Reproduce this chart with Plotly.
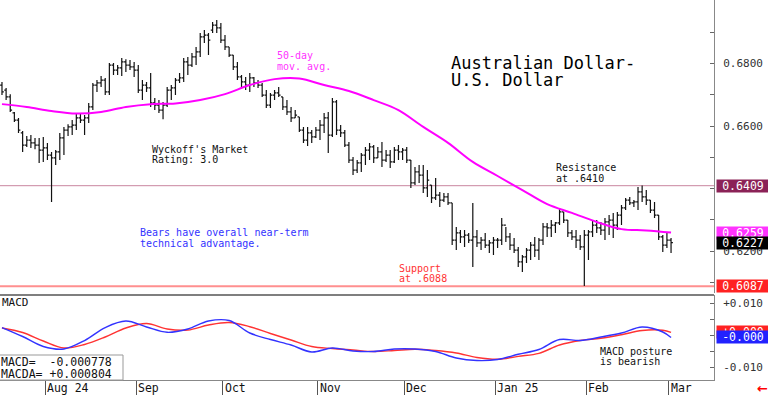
import pandas as pd
import plotly.graph_objects as go

MONO = "DejaVu Sans Mono"

# ---------------- data ----------------
dates = [d for d in pd.bdate_range("2024-07-17", "2025-03-03") if d != pd.Timestamp("2025-01-01")]

high = [
    0.6741, 0.6722, 0.6702, 0.6645, 0.6626, 0.6584, 0.6568, 0.6571, 0.6562, 0.6562,
    0.6565, 0.6546, 0.6517, 0.6523, 0.6578, 0.6597, 0.6606, 0.6619, 0.6642, 0.6642,
    0.6635, 0.6674, 0.6738, 0.6747, 0.6760, 0.6754, 0.6802, 0.6802, 0.6795, 0.6818,
    0.6814, 0.6811, 0.6805, 0.6795, 0.6747, 0.6741, 0.6770, 0.6690, 0.6683, 0.6677,
    0.6725, 0.6731, 0.6754, 0.6770, 0.6818, 0.6821, 0.6834, 0.6853, 0.6898, 0.6907,
    0.6898, 0.6933, 0.6939, 0.6930, 0.6891, 0.6853, 0.6827, 0.6805, 0.6763, 0.6757,
    0.6770, 0.6757, 0.6747, 0.6738, 0.6715, 0.6706, 0.6715, 0.6725, 0.6693, 0.6683,
    0.6661, 0.6651, 0.6629, 0.6597, 0.6597, 0.6587, 0.6597, 0.6619, 0.6642, 0.6645,
    0.6690, 0.6683, 0.6603, 0.6587, 0.6549, 0.6501, 0.6491, 0.6514, 0.6533, 0.6546,
    0.6539, 0.6533, 0.6549, 0.6523, 0.6523, 0.6533, 0.6539, 0.6530, 0.6533, 0.6491,
    0.6469, 0.6475, 0.6475, 0.6459, 0.6411, 0.6434, 0.6389, 0.6386, 0.6386, 0.6354,
    0.6277, 0.6267, 0.6267, 0.6258, 0.6354, 0.6267, 0.6245, 0.6258, 0.6235, 0.6245,
    0.6242, 0.6306, 0.6277, 0.6258, 0.6242, 0.6213, 0.6187, 0.6210, 0.6229, 0.6245,
    0.6242, 0.6290, 0.6290, 0.6299, 0.6293, 0.6338, 0.6325, 0.6299, 0.6267, 0.6267,
    0.6251, 0.6267, 0.6267, 0.6299, 0.6299, 0.6293, 0.6306, 0.6315, 0.6322, 0.6325,
    0.6347, 0.6370, 0.6373, 0.6363, 0.6405, 0.6410, 0.6395, 0.6363, 0.6357, 0.6315,
    0.6251, 0.6258, 0.6242,
]
low = [
    0.6699, 0.6683, 0.6645, 0.6613, 0.6578, 0.6517, 0.6533, 0.6530, 0.6526, 0.6482,
    0.6485, 0.6491, 0.6357, 0.6475, 0.6491, 0.6507, 0.6568, 0.6571, 0.6587, 0.6610,
    0.6571, 0.6610, 0.6651, 0.6709, 0.6725, 0.6699, 0.6699, 0.6763, 0.6763, 0.6760,
    0.6773, 0.6779, 0.6757, 0.6706, 0.6683, 0.6709, 0.6661, 0.6651, 0.6642, 0.6622,
    0.6661, 0.6683, 0.6699, 0.6738, 0.6741, 0.6763, 0.6789, 0.6795, 0.6821, 0.6866,
    0.6827, 0.6898, 0.6898, 0.6866, 0.6843, 0.6821, 0.6779, 0.6747, 0.6722, 0.6715,
    0.6709, 0.6725, 0.6722, 0.6693, 0.6658, 0.6658, 0.6683, 0.6693, 0.6651, 0.6635,
    0.6613, 0.6626, 0.6581, 0.6546, 0.6536, 0.6546, 0.6562, 0.6555, 0.6578, 0.6514,
    0.6565, 0.6571, 0.6565, 0.6533, 0.6482, 0.6443, 0.6450, 0.6453, 0.6475, 0.6491,
    0.6482, 0.6498, 0.6469, 0.6485, 0.6466, 0.6482, 0.6491, 0.6491, 0.6482, 0.6402,
    0.6411, 0.6418, 0.6386, 0.6373, 0.6354, 0.6363, 0.6341, 0.6357, 0.6347, 0.6219,
    0.6203, 0.6226, 0.6213, 0.6226, 0.6149, 0.6213, 0.6203, 0.6210, 0.6194, 0.6187,
    0.6210, 0.6219, 0.6229, 0.6203, 0.6194, 0.6149, 0.6133, 0.6162, 0.6171, 0.6181,
    0.6171, 0.6219, 0.6245, 0.6245, 0.6258, 0.6283, 0.6290, 0.6245, 0.6235, 0.6210,
    0.6203, 0.6088, 0.6171, 0.6245, 0.6258, 0.6251, 0.6235, 0.6251, 0.6242, 0.6267,
    0.6283, 0.6331, 0.6347, 0.6341, 0.6331, 0.6357, 0.6347, 0.6322, 0.6306, 0.6235,
    0.6197, 0.6210, 0.6194,
]
open_ = [
    0.6731, 0.6715, 0.6693, 0.6642, 0.6619, 0.6578, 0.6539, 0.6555, 0.6546, 0.6539,
    0.6523, 0.6530, 0.6507, 0.6498, 0.6517, 0.6562, 0.6587, 0.6597, 0.6603, 0.6626,
    0.6619, 0.6626, 0.6661, 0.6731, 0.6738, 0.6747, 0.6709, 0.6795, 0.6779, 0.6786,
    0.6805, 0.6795, 0.6789, 0.6779, 0.6715, 0.6731, 0.6722, 0.6674, 0.6667, 0.6651,
    0.6667, 0.6715, 0.6722, 0.6747, 0.6754, 0.6805, 0.6795, 0.6821, 0.6837, 0.6885,
    0.6891, 0.6907, 0.6923, 0.6914, 0.6875, 0.6853, 0.6827, 0.6789, 0.6757, 0.6741,
    0.6731, 0.6754, 0.6738, 0.6731, 0.6699, 0.6667, 0.6699, 0.6706, 0.6693, 0.6661,
    0.6645, 0.6626, 0.6629, 0.6587, 0.6555, 0.6578, 0.6565, 0.6587, 0.6603, 0.6626,
    0.6571, 0.6677, 0.6587, 0.6578, 0.6539, 0.6491, 0.6459, 0.6482, 0.6507, 0.6523,
    0.6533, 0.6498, 0.6517, 0.6491, 0.6507, 0.6485, 0.6523, 0.6517, 0.6523, 0.6491,
    0.6418, 0.6453, 0.6443, 0.6402, 0.6411, 0.6370, 0.6379, 0.6363, 0.6373, 0.6354,
    0.6235, 0.6258, 0.6245, 0.6251, 0.6235, 0.6245, 0.6226, 0.6235, 0.6219, 0.6226,
    0.6235, 0.6235, 0.6283, 0.6245, 0.6219, 0.6203, 0.6165, 0.6181, 0.6203, 0.6219,
    0.6203, 0.6235, 0.6277, 0.6274, 0.6283, 0.6290, 0.6325, 0.6299, 0.6258, 0.6245,
    0.6235, 0.6213, 0.6251, 0.6261, 0.6283, 0.6274, 0.6267, 0.6293, 0.6299, 0.6283,
    0.6315, 0.6338, 0.6363, 0.6354, 0.6357, 0.6389, 0.6373, 0.6363, 0.6331, 0.6315,
    0.6245, 0.6219, 0.6235,
]
close = [
    0.6709, 0.6693, 0.6651, 0.6619, 0.6587, 0.6539, 0.6555, 0.6546, 0.6539, 0.6523,
    0.6530, 0.6507, 0.6498, 0.6517, 0.6562, 0.6587, 0.6597, 0.6603, 0.6626, 0.6619,
    0.6626, 0.6661, 0.6731, 0.6738, 0.6747, 0.6709, 0.6795, 0.6779, 0.6786, 0.6805,
    0.6795, 0.6789, 0.6779, 0.6715, 0.6731, 0.6722, 0.6674, 0.6667, 0.6651, 0.6667,
    0.6715, 0.6722, 0.6747, 0.6754, 0.6805, 0.6795, 0.6821, 0.6837, 0.6885, 0.6891,
    0.6875, 0.6923, 0.6914, 0.6875, 0.6853, 0.6827, 0.6789, 0.6757, 0.6741, 0.6731,
    0.6754, 0.6738, 0.6731, 0.6699, 0.6667, 0.6699, 0.6706, 0.6699, 0.6661, 0.6645,
    0.6626, 0.6635, 0.6587, 0.6555, 0.6578, 0.6565, 0.6587, 0.6603, 0.6626, 0.6571,
    0.6677, 0.6587, 0.6578, 0.6539, 0.6491, 0.6459, 0.6482, 0.6507, 0.6523, 0.6533,
    0.6498, 0.6517, 0.6491, 0.6507, 0.6485, 0.6523, 0.6517, 0.6523, 0.6491, 0.6418,
    0.6453, 0.6443, 0.6402, 0.6427, 0.6370, 0.6379, 0.6363, 0.6373, 0.6354, 0.6235,
    0.6258, 0.6245, 0.6251, 0.6235, 0.6245, 0.6226, 0.6235, 0.6219, 0.6226, 0.6235,
    0.6235, 0.6283, 0.6245, 0.6219, 0.6203, 0.6165, 0.6181, 0.6203, 0.6219, 0.6203,
    0.6235, 0.6277, 0.6274, 0.6283, 0.6290, 0.6325, 0.6299, 0.6258, 0.6245, 0.6235,
    0.6213, 0.6251, 0.6261, 0.6283, 0.6274, 0.6267, 0.6293, 0.6299, 0.6283, 0.6315,
    0.6338, 0.6363, 0.6354, 0.6357, 0.6389, 0.6373, 0.6363, 0.6331, 0.6315, 0.6245,
    0.6219, 0.6235, 0.6227,
]

# 50-day moving average, read every 6th session
ma_idx = list(range(0, 163, 6))
ma_val = [0.6670, 0.6661, 0.6648, 0.6640, 0.6645, 0.6661, 0.6670, 0.6672, 0.6683, 0.6702,
          0.6731, 0.6750, 0.6752, 0.6731, 0.6712, 0.6683, 0.6651, 0.6597, 0.6546, 0.6485,
          0.6440, 0.6395, 0.6350, 0.6322, 0.6293, 0.6270, 0.6266, 0.6259]

# MACD and its average, read every 5th session
macd_idx = list(range(0, 161, 5)) + [162]
macd = [0.00234, -0.00047, -0.00359, -0.00438, -0.00172, 0.00234, 0.00438, 0.00250, 0.00084, 0.00188,
        0.00438, 0.00453, 0.00063, -0.00141, -0.00313, -0.00531, -0.00406, -0.00500, -0.00516, -0.00438,
        -0.00438, -0.00516, -0.00719, -0.00797, -0.00766, -0.00603, -0.00453, -0.00141, -0.00172, -0.00063,
        0.00063, 0.00250, 0.00094, -0.000778]
macda = [0.00219, 0.00078, -0.00188, -0.00406, -0.00297, -0.00063, 0.00219, 0.00359, 0.00188, 0.00156,
         0.00313, 0.00391, 0.00259, 0.00047, -0.00156, -0.00359, -0.00422, -0.00469, -0.00516, -0.00484,
         -0.00444, -0.00484, -0.00563, -0.00703, -0.00759, -0.00666, -0.00572, -0.00313, -0.00172, -0.00103,
         0.00009, 0.00141, 0.00147, 0.000804]

resistance = 0.6409
support = 0.6087
ma_last = 0.6259
last_close = 0.6227

month_starts = ["2024-08-01", "2024-09-01", "2024-10-01", "2024-11-01",
                "2024-12-01", "2025-01-01", "2025-02-01", "2025-03-01"]
month_labels = ["Aug 24", "Sep", "Oct", "Nov", "Dec", "Jan 25", "Feb", "Mar"]

price_ticks = [0.62, 0.64, 0.66, 0.68]
price_minor = [0.61, 0.63, 0.65, 0.67, 0.69, 0.70]
macd_ticks = [-0.01, 0.01]
macd_ticktext = ["-0.010", "+0.010"]

# ---------------- geometry helpers ----------------
PW, PH = 714.0, 380.0   # plot area in px


def px(xp):
    return xp / PW


def py(yp):
    return 1 - yp / PH


idx = list(range(len(dates)))
tick_pos = [sum(1 for d in dates if d < pd.Timestamp(m)) - 0.5 for m in month_starts]
xr = [-0.48, 172.4]

fig = go.Figure()
fig.add_trace(go.Ohlc(
    x=idx, open=open_, high=high, low=low, close=close,
    increasing=dict(line=dict(color="#111111", width=1.2)),
    decreasing=dict(line=dict(color="#111111", width=1.2)),
    tickwidth=0.45, xaxis="x", yaxis="y", hoverinfo="skip", showlegend=False))
fig.add_trace(go.Scatter(
    x=ma_idx, y=ma_val, mode="lines", line=dict(color="#ff00ff", width=2, shape="spline"),
    xaxis="x", yaxis="y", hoverinfo="skip", showlegend=False))
fig.add_trace(go.Scatter(
    x=macd_idx, y=macda, mode="lines", line=dict(color="#ff3333", width=1.4, shape="spline"),
    xaxis="x2", yaxis="y2", hoverinfo="skip", showlegend=False))
fig.add_trace(go.Scatter(
    x=macd_idx, y=macd, mode="lines", line=dict(color="#3333ff", width=1.4, shape="spline"),
    xaxis="x2", yaxis="y2", hoverinfo="skip", showlegend=False))

tickfont = dict(family=MONO, size=11, color="#333333")

fig.update_layout(
    width=768, height=395,
    margin=dict(l=0, r=54, t=0, b=15),
    paper_bgcolor="white", plot_bgcolor="white",
    showlegend=False,
    xaxis=dict(domain=[0, 1], range=xr, anchor="y", showticklabels=False, showgrid=False,
               zeroline=False, showline=False, ticks="", rangeslider=dict(visible=False)),
    yaxis=dict(domain=[1 - 293 / PH, 1], range=[0.60656, 0.70032], side="right",
               tickvals=price_ticks, tickformat=".4f", ticks="inside", ticklen=4,
               tickcolor="#666666", showline=True, linecolor="#888888", linewidth=1,
               showgrid=False, zeroline=False, tickfont=tickfont, ticklabelstandoff=6,
               minor=dict(tickvals=price_minor, ticks="inside", ticklen=4, tickcolor="#666666")),
    xaxis2=dict(domain=[0, 1], range=xr, anchor="y2", tickvals=tick_pos, ticks="outside",
                ticklen=15, tickcolor="#555555", showticklabels=False, showline=True,
                linecolor="#888888", showgrid=False, zeroline=False),
    yaxis2=dict(domain=[0, 1 - 295 / PH], range=[-0.01406, 0.0125], side="right",
                tickvals=macd_ticks, ticktext=macd_ticktext, ticks="inside", ticklen=4,
                tickcolor="#666666", showline=True, linecolor="#888888", showgrid=False,
                zeroline=False, tickfont=tickfont, ticklabelstandoff=6,
                minor=dict(tickvals=[-0.005, 0.0, 0.005], ticks="inside", ticklen=4,
                           tickcolor="#666666")),
)

shapes = [
    dict(type="line", xref="paper", yref="y", x0=0, x1=1, y0=resistance, y1=resistance,
         line=dict(color="#c9869f", width=1), layer="below"),
    dict(type="line", xref="paper", yref="y", x0=0, x1=1, y0=support, y1=support,
         line=dict(color="#ff8f8f", width=2), layer="below"),
    dict(type="line", xref="paper", yref="paper", x0=0, x1=1, y0=py(295), y1=py(295),
         line=dict(color="#555555", width=1.5)),
    dict(type="rect", xref="paper", yref="paper", x0=px(-1), x1=px(123), y0=py(380), y1=py(355),
         fillcolor="white", line=dict(color="#999999", width=1), layer="above"),
]
fig.update_layout(shapes=shapes)

ann = []


def txt(xp, yp, s, color="#111111", size=10):
    ann.append(dict(xref="paper", yref="paper", x=px(xp), y=py(yp), xanchor="left",
                    yanchor="middle", text=s, showarrow=False, borderpad=0,
                    font=dict(family=MONO, size=size, color=color)))


txt(450, 63, "Australian Dollar-", "#000000", 17)
txt(450, 79.5, "U.S. Dollar", "#000000", 17)
txt(276, 55.5, "50-day", "#ff33ff")
txt(276, 66, "mov. avg.", "#ff33ff")
txt(151, 149, "Wyckoff's Market")
txt(151, 159.5, "Rating: 3.0")
txt(139, 232.5, "Bears have overall near-term", "#3333ff")
txt(139, 243, "technical advantage.", "#3333ff")
txt(555, 167.5, "Resistance")
txt(555, 178, "at .6410")
txt(398, 268, "Support", "#ff3333")
txt(398, 278.5, "at .6088", "#ff3333")
txt(1, 302.5, "MACD", "#111111", 11)
txt(599, 351, "MACD posture")
txt(599, 361.5, "is bearish")
txt(0, 361.5, "MACD=\u00a0\u00a0-0.000778", "#111111", 11.5)
txt(0, 373.5, "MACDA=\u00a0+0.000804", "#111111", 11.5)

for pos, lab in zip(tick_pos, month_labels):
    ann.append(dict(xref="x2", yref="paper", x=pos + 0.2, y=py(388), xanchor="left",
                    yanchor="middle", text=lab, showarrow=False, borderpad=0,
                    font=dict(family=MONO, size=11.5, color="#111111")))


def box(val, yref, s, bg):
    ann.append(dict(xref="paper", yref=yref, x=px(716), y=val, xanchor="left",
                    yanchor="middle", text=s, showarrow=False, bgcolor=bg, width=52,
                    height=12, borderpad=0, align="center",
                    font=dict(family=MONO, size=11.5, color="white")))


box(resistance, "y", f"{resistance:.4f}", "#8b2257")
box(ma_last, "y", f"{ma_last:.4f}", "#ff33ff")
box(last_close, "y", f"{last_close:.4f}", "#000000")
box(support, "y", f"{support:.4f}", "#ff2222")
box(macda[-1], "y2", "+0.000", "#ff2222")
box(macd[-1], "y2", "-0.000", "#2222ff")

ann.append(dict(xref="paper", yref="paper", x=px(762), y=py(388), xanchor="center",
                yanchor="middle", text="<b>\u2190</b>", showarrow=False,
                font=dict(family="DejaVu Sans", size=13, color="#ff0000")))

fig.update_layout(annotations=ann)

fig.write_html("out.html", config={"displayModeBar": False},
               post_script="document.body.style.margin='0';document.body.style.overflow='hidden';")
